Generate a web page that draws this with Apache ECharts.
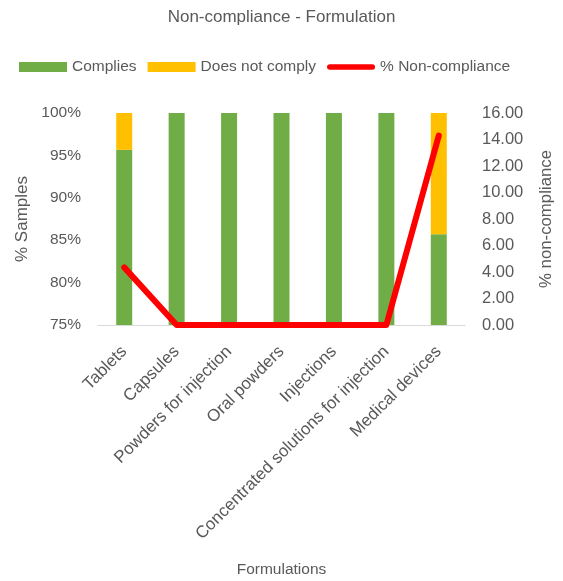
<!DOCTYPE html>
<html>
<head>
<meta charset="utf-8">
<script src="https://cdn.jsdelivr.net/npm/echarts@6/dist/echarts.min.js"></script>
<style>
  html, body { margin: 0; padding: 0; background: #fff; }
  #chart { width: 563px; height: 581px; }
</style>
</head>
<body>
<div id="chart"></div>
<script>
// Formulation categories
const categories = ['Tablets', 'Capsules', 'Powders for injection', 'Oral powders', 'Injections', 'Concentrated solutions for injection', 'Medical devices'];
// Share of samples (%) that comply / do not comply
const complies = [95.65, 100, 100, 100, 100, 100, 85.71];
const notComply = [4.35, 0, 0, 0, 0, 0, 14.29];
// Non-compliance rate (%) on the secondary axis
const nonCompliance = [4.35, 0, 0, 0, 0, 0, 14.29];

const font = 'Liberation Sans, Arial, sans-serif';
const grey = '#595959';

const chart = echarts.init(document.getElementById('chart'));
chart.setOption({
  animation: false,
  title: {
    text: 'Non-compliance - Formulation',
    left: 'center', top: 4,
    textStyle: { fontFamily: font, fontSize: 17, fontWeight: 'normal', color: grey }
  },
  legend: {
    top: 54, left: 14,
    itemGap: 11,
    textStyle: { fontFamily: font, fontSize: 15.5, color: grey },
    data: [
      { name: 'Complies', icon: 'rect', itemStyle: { color: '#70AD47' } },
      { name: 'Does not comply', icon: 'rect', itemStyle: { color: '#FFC000' } },
      {
        name: '% Non-compliance',
        icon: 'path://M3,0 L49,0 A3,3 0 0 1 49,6 L3,6 A3,3 0 0 1 3,0 Z',
        itemStyle: { color: '#FF0000' }
      }
    ],
    itemWidth: 48, itemHeight: 10
  },
  grid: { left: 98, right: 97, top: 113, bottom: 256 },
  xAxis: {
    type: 'category',
    data: categories,
    name: 'Formulations',
    nameLocation: 'middle',
    nameGap: 237,
    nameTextStyle: { fontFamily: font, fontSize: 15.5, color: grey },
    axisLine: { lineStyle: { color: '#D9D9D9', width: 1 } },
    axisTick: { show: false },
    axisLabel: { rotate: 45, interval: 0, margin: 24, fontFamily: font, fontSize: 17, color: grey }
  },
  yAxis: [
    {
      type: 'value', min: 75, max: 100, interval: 5,
      name: '% Samples', nameLocation: 'middle', nameGap: 64, nameRotate: 90,
      nameTextStyle: { fontFamily: font, fontSize: 17, color: grey },
      axisLine: { show: false }, axisTick: { show: false },
      splitLine: { show: false },
      axisLabel: { formatter: '{value}%', fontFamily: font, fontSize: 15.5, color: grey, margin: 17 }
    },
    {
      type: 'value', min: 0, max: 16, interval: 2,
      name: '% non-compliance', nameLocation: 'middle', nameGap: 73, nameRotate: 90,
      nameTextStyle: { fontFamily: font, fontSize: 16.8, color: grey },
      axisLine: { show: false }, axisTick: { show: false },
      splitLine: { show: false },
      axisLabel: { formatter: v => v.toFixed(2), fontFamily: font, fontSize: 16.5, color: grey, margin: 17 }
    }
  ],
  series: [
    {
      name: 'Complies', type: 'bar', stack: 'share', data: complies,
      barWidth: 16,
      itemStyle: { color: '#70AD47' }
    },
    {
      name: 'Does not comply', type: 'bar', stack: 'share', data: notComply,
      itemStyle: { color: '#FFC000' }
    },
    {
      name: '% Non-compliance', type: 'line', yAxisIndex: 1, data: nonCompliance,
      symbol: 'none',
      lineStyle: { color: '#FF0000', width: 6, cap: 'round', join: 'round' },
      itemStyle: { color: '#FF0000' }
    }
  ]
});
</script>
</body>
</html>
